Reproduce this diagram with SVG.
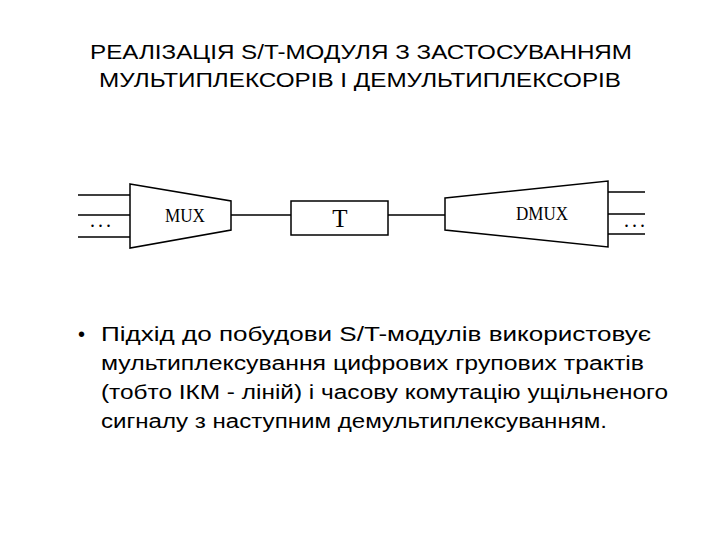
<svg xmlns="http://www.w3.org/2000/svg" width="720" height="540" viewBox="0 0 720 540">
<style>
.t{font-family:"Liberation Sans",Arial,sans-serif;font-size:20px;fill:#000}
.b{font-family:"Liberation Sans",Arial,sans-serif;font-size:20px;fill:#000}
.s{fill:#fff;stroke:#000;stroke-width:1.5}
.l{stroke:#000;stroke-width:1.5;fill:none}
.d{font-family:"Liberation Serif","Times New Roman",serif;font-size:18px;fill:#000}
.dots{font-family:"Liberation Serif",serif;font-size:20px;letter-spacing:3px;fill:#000}
</style>
<rect width="720" height="540" fill="#fff"/>
<text class="t" x="90" y="59" textLength="542" lengthAdjust="spacingAndGlyphs">РЕАЛІЗАЦІЯ S/T-МОДУЛЯ З ЗАСТОСУВАННЯМ</text>
<text class="t" x="99" y="87" textLength="522" lengthAdjust="spacingAndGlyphs">МУЛЬТИПЛЕКСОРІВ І ДЕМУЛЬТИПЛЕКСОРІВ</text>
<g id="connectors">
<path class="l" d="M78 195H130M78 215H130M78 237H130M231 215H291M388 215H445M608 192H645M608 214H645M608 234H645"/>
</g>
<text class="dots" x="90" y="227">...</text>
<text class="dots" x="624" y="227">...</text>
<g id="mux"><path class="s" d="M130 184L231 201V230L130 248Z"/><text class="d" x="185" y="222" text-anchor="middle" textLength="40" lengthAdjust="spacingAndGlyphs">MUX</text></g>
<g id="t"><rect class="s" x="291" y="201" width="97" height="34"/><text class="d" x="340" y="227" text-anchor="middle" style="font-size:25px">T</text></g>
<g id="dmux"><path class="s" d="M445 198L608 181V247L445 230Z"/><text class="d" x="542" y="220" text-anchor="middle" textLength="52" lengthAdjust="spacingAndGlyphs">DMUX</text></g>
<g id="text">
<text class="b" x="78" y="341">•</text>
<text class="b" x="101" y="341" textLength="550" lengthAdjust="spacingAndGlyphs">Підхід до побудови S/T-модулів використовує</text>
<text class="b" x="101" y="370" textLength="543" lengthAdjust="spacingAndGlyphs">мультиплексування цифрових групових трактів</text>
<text class="b" x="101" y="399" textLength="567" lengthAdjust="spacingAndGlyphs">(тобто ІКМ - ліній) і часову комутацію ущільненого</text>
<text class="b" x="101" y="428" textLength="506" lengthAdjust="spacingAndGlyphs">сигналу з наступним демультиплексуванням.</text>
</g>
</svg>
